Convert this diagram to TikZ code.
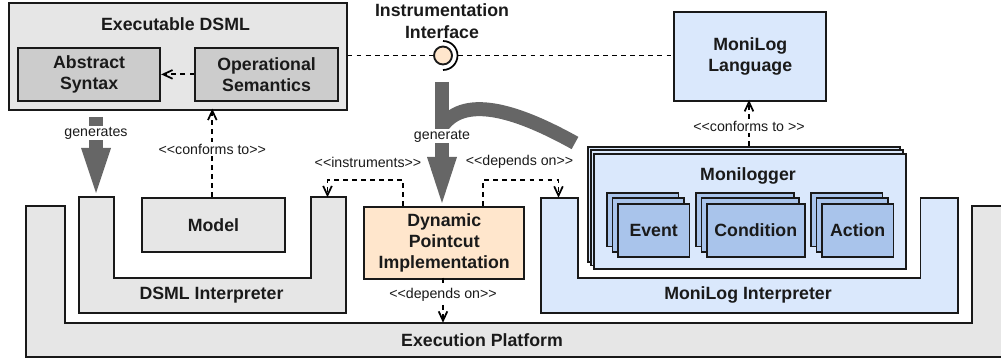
\documentclass[tikz,border=0pt]{standalone}
\usepackage{fontspec}
\setmainfont{Liberation Sans}
\usetikzlibrary{arrows.meta,positioning}
\definecolor{lgray}{HTML}{E6E6E6}
\definecolor{mgray}{HTML}{CCCCCC}
\definecolor{lblue}{HTML}{DAE8FC}
\definecolor{mblue}{HTML}{A9C4EB}
\definecolor{peach}{HTML}{FFE6CC}
\definecolor{thick}{HTML}{666666}
\definecolor{ink}{HTML}{1A1A1A}
\tikzset{
  x=0.75pt,y=-0.75pt,
  every node/.style={font=\fontsize{13.3}{16}\selectfont\bfseries,align=center,text=ink,inner sep=0pt},
  shapeline/.style={draw=black!90,line width=1.4pt},
  tag/.style={font=\fontsize{10.65}{12}\selectfont\mdseries,fill=white,inner ysep=1pt,inner xsep=1pt},
  barbtip/.style={-{Straight Barb[length=7pt,width=6.5pt,line width=1.3pt]}},
  plainline/.style={draw=black,line width=1.4pt,dash pattern=on 3.6pt off 3.2pt},
  depline/.style={plainline,barbtip},
  flow/.style={draw=thick,line width=10.5pt},
  head/.style={fill=thick,draw=none},
}
\begin{document}
\begin{tikzpicture}
\useasboundingbox (0,0) rectangle (1001,360);
% Execution platform
\path[fill=lgray] (1005,206) -- (972,206) -- (972,322.7) -- (65,322.7) -- (65,206) -- (26,206) -- (26,357) -- (1005,357) -- cycle;
\path[shapeline] (1005,206) -- (972,206) -- (972,322.7) -- (65,322.7) -- (65,206) -- (26,206) -- (26,357) -- (1005,357);
\node (ep) at (482,340) {Execution Platform};
% DSML interpreter
\path[shapeline,fill=lgray] (79.3,197.3) -- (113.7,197.3) -- (113.7,278.3) -- (310.7,278.3) -- (310.7,197.3) -- (346,197.3) -- (346,312.7) -- (79.3,312.7) -- cycle;
\node (di) at (211.5,295.3) {DSML Interpreter};
\coordinate (dil) at (327.5,197.3);
% MoniLog interpreter
\path[shapeline,fill=lblue] (540.7,197.7) -- (578,197.7) -- (578,278.3) -- (920.5,278.3) -- (920.5,197.7) -- (958,197.7) -- (958,312.7) -- (540.7,312.7) -- cycle;
\node (mi) at (748,295.3) {MoniLog Interpreter};
\coordinate (mil) at (558.5,197.7);
\coordinate (epl) at (443,322.7);
% Executable DSML
\node[shapeline,fill=lgray,minimum width=337.7*0.75pt,minimum height=106.7*0.75pt,anchor=north west] (ed) at (8,2) {};
\node (edt) at (175.5,24) {Executable DSML};
\node[shapeline,fill=mgray,minimum width=142.3*0.75pt,minimum height=53.5*0.75pt,anchor=north west] (as) at (17,46.7) {Abstract\\Syntax};
\node[shapeline,fill=mgray,minimum width=142.7*0.75pt,minimum height=53.5*0.75pt,anchor=north west] (os) at (194.3,46.7) {Operational\\Semantics};
\draw[depline] (os.west) -- (as.east);
% Model
\node[shapeline,fill=lgray,minimum width=142.4*0.75pt,minimum height=53.4*0.75pt,anchor=north west] (model) at (141.3,197.3) {Model};
\coordinate (edb) at (212.3,108.7);
\draw[depline] (model.north -| edb) -- (edb) node[tag,pos=0.545] {<{}<conforms to>{}>};
% Dynamic pointcut
\node[shapeline,fill=peach,minimum width=160*0.75pt,minimum height=71.7*0.75pt,anchor=north west] (dp) at (363.3,206) {Dynamic\\Pointcut\\Implementation};
\coordinate (dpa) at (403.3,206);
\coordinate (dpb) at (483,206);
\coordinate (dpc) at (443,277.7);
\draw[depline] (dpa) |- (327.5,180) -- (dil);
\draw[depline] (dpb) |- (558.5,180) -- (mil);
\node[tag,fill=none] (t1) at (368,162) {<{}<instruments>{}>};
\node[tag,fill=none] (t2) at (519.5,162) {<{}<depends on>{}>};
\draw[depline] (dpc) -- (epl) node[tag,pos=0.385] {<{}<depends on>{}>};
% Monilog language
\node[shapeline,fill=lblue,minimum width=152*0.75pt,minimum height=89*0.75pt,anchor=north west] (ml) at (673.3,11) {MoniLog\\Language};
% Monilogger
\node[shapeline,fill=lblue,minimum width=311.7*0.75pt,minimum height=115*0.75pt,anchor=north west] (m1) at (587,146) {};
\node[shapeline,fill=lblue,minimum width=311.7*0.75pt,minimum height=115*0.75pt,anchor=north west] (m2) at (590,149.5) {};
\node[shapeline,fill=lblue,minimum width=311.7*0.75pt,minimum height=115*0.75pt,anchor=north west] (m3) at (593.3,153) {};
\node (mt) at (748,175.5) {Monilogger};
\foreach \n/\xx/\w/\lab in {e/606/71.5/Event,c/695/97.7/Condition,a/810/71.5/Action}{
  \node[shapeline,fill=mblue,minimum width=\w*0.75pt,minimum height=53.5*0.75pt,anchor=north west] (\n1) at (\xx,192) {};
  \node[shapeline,fill=mblue,minimum width=\w*0.75pt,minimum height=53.5*0.75pt,anchor=north west] (\n2) at (\xx+5.5,197.5) {};
  \node[shapeline,fill=mblue,minimum width=\w*0.75pt,minimum height=53.5*0.75pt,anchor=north west] (\n3) at (\xx+11,202.7) {\lab};
}
\coordinate (mlb) at (749,100);
\draw[depline] (mlb |- m1.north) -- (mlb) node[tag,pos=0.435] {<{}<conforms to >{}>};
% interface
\node[shapeline,circle,fill=peach,minimum size=18*0.75pt] (ifc) at (443,55.5) {};
\node (ift) at (442,21) {Instrumentation\\Interface};
\draw[line width=1.3pt] (443,70) arc[start angle=90,end angle=-90,radius=14.5];
\coordinate (ifr) at (458,55.5);
\draw[plainline] (ed.east |- ifc) -- (ifc.west);
\draw[plainline] (ifr) -- (ml.west |- ifr);
% generates arrow
\coordinate (g1) at (96,117);
\coordinate (g2) at (96,148);
\draw[flow] (g1) -- (g2);
\path[head] (81,148) -- (111,148) -- (96,193) -- cycle;
\node[tag] at (96,133) {generates};
% generate arrow
\coordinate (h1) at (442,82);
\coordinate (h2) at (442,157);
\draw[flow] (h1) -- (h2);
\path[head] (427,157) -- (457,157) -- (442,203) -- cycle;
\draw[flow] (575,143) .. controls (530,118) and (470,92) .. (444,124);
\node[tag] at (442,136) {generate};
\end{tikzpicture}
\end{document}
